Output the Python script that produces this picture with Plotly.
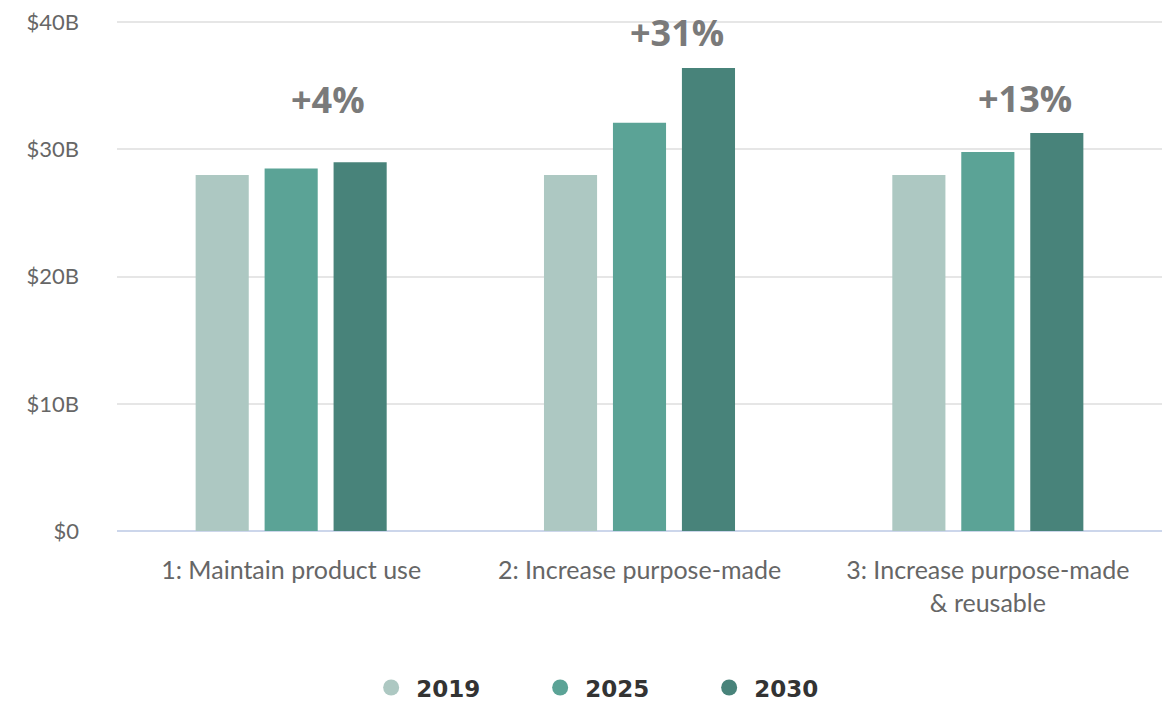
"""Plastic packaging market value by scenario, 2019 / 2025 / 2030."""
import plotly.graph_objects as go

# data
scenarios = ["1: Maintain product use", "2: Increase purpose-made",
             "3: Increase purpose-made<br>& reusable"]
years = ["2019", "2025", "2030"]
values_2019 = [28.0, 28.0, 28.0]
values_2025 = [28.5, 32.1, 29.8]
values_2030 = [29.0, 36.4, 31.3]
growth_labels = ["+4%", "+31%", "+13%"]
growth_label_y = [33.9, 39.2, 34.0]

y_ticks = [0, 10, 20, 30, 40]
y_tick_text = ["$0", "$10B", "$20B", "$30B", "$40B"]

COLORS = {"2019": "#adc8c2", "2025": "#5ba396", "2030": "#48837a"}

fig = go.Figure()
for year, vals in zip(years, [values_2019, values_2025, values_2030]):
    fig.add_trace(go.Bar(
        x=scenarios, y=vals, name=year,
        marker_color=COLORS[year], marker_line_width=0,
        showlegend=False, hoverinfo="skip",
    ))
    # circle swatches for the legend
    fig.add_trace(go.Scatter(
        x=[None], y=[None], mode="markers", name=year,
        marker=dict(symbol="circle", size=30, color=COLORS[year]),
    ))

for cat, label, yy in zip(scenarios, growth_labels, growth_label_y):
    fig.add_annotation(
        x=cat, y=yy, text=label, showarrow=False, xshift=37,
        font=dict(family="Open Sans", size=36, color="#7a7a7a", weight="bold"),
    )

# page body adds an 8px offset, so the figure is 8px smaller than the window
fig.update_layout(
    width=1166, height=694,
    margin=dict(l=109, r=12, t=13, b=171, autoexpand=False),
    plot_bgcolor="white", paper_bgcolor="white",
    barmode="group", bargap=0.406, bargroupgap=0.23,
    font=dict(family="Lato", size=23, color="#666666"),
    legend=dict(
        orientation="h", x=0.481, xanchor="center", y=-0.307, yanchor="middle",
        font=dict(family="DejaVu Sans", size=23, color="#333333", weight="bold"),
        itemsizing="trace", itemwidth=40, entrywidth=114, entrywidthmode="pixels",
    ),
)
fig.update_xaxes(
    showgrid=False, showline=False, ticks="", ticklabelstandoff=22,
    tickfont=dict(size=25), automargin=False,
)
fig.update_yaxes(
    range=[0, 40.1], tickvals=y_ticks, ticktext=y_tick_text,
    showgrid=True, gridcolor="#e6e6e6", gridwidth=1.5,
    zeroline=True, zerolinecolor="#ccd6eb", zerolinewidth=2,
    ticklabelstandoff=37, automargin=False, ticklabeloverflow="allow",
    tickfont=dict(size=22),
)

fig.write_html("out.html")
